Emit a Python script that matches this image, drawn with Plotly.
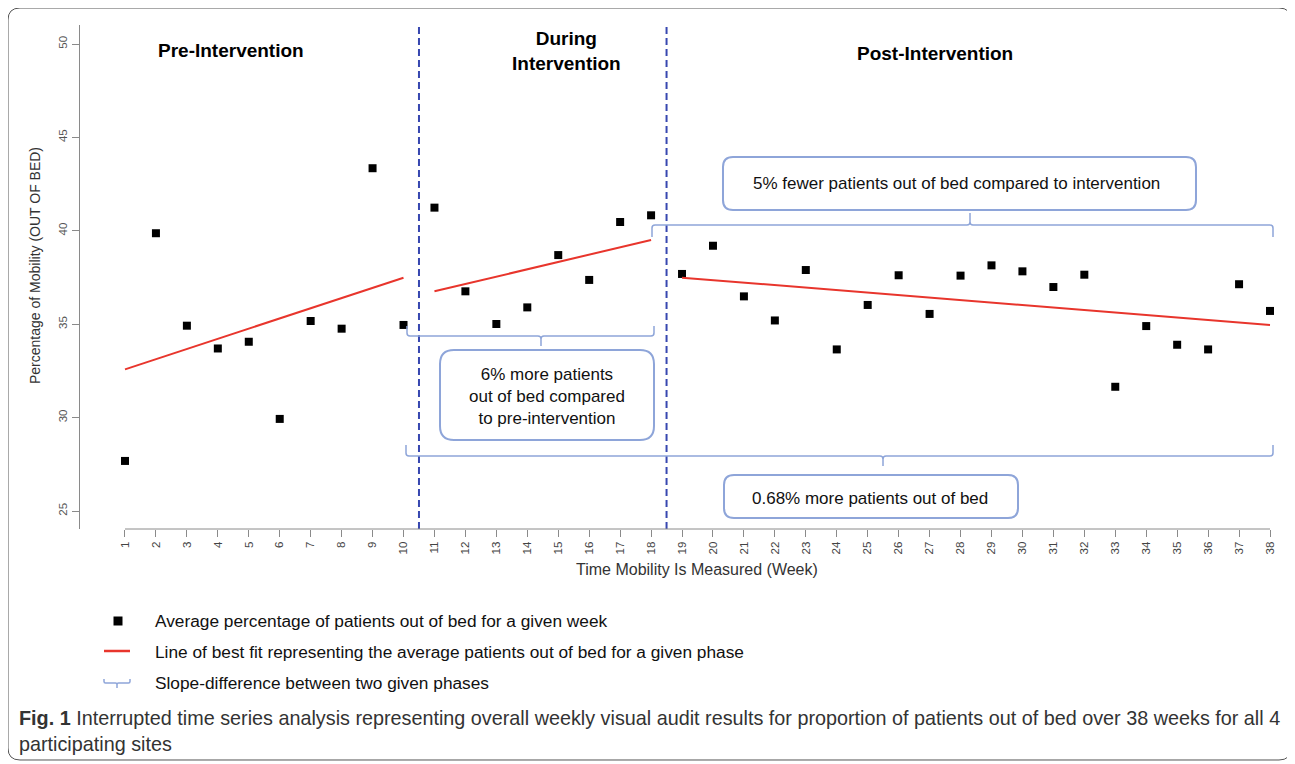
import plotly.graph_objects as go

# ---------------- data ----------------
weeks = list(range(1, 39))
pct_out_of_bed = [27.68, 39.87, 34.92, 33.70, 34.06, 29.93, 35.17, 34.76, 43.35, 34.96,
                  41.24, 36.76, 35.01, 35.90, 38.70, 37.37, 40.47, 40.83,
                  37.69, 39.20, 36.49, 35.20, 37.90, 33.65, 36.03, 37.62, 35.55, 37.60,
                  38.15, 37.83, 36.99, 37.65, 31.65, 34.90, 33.90, 33.65, 37.14, 35.71]

fit_weeks_pre = [1, 10]
fit_pre = [32.58, 37.49]
fit_weeks_during = [11, 18]
fit_during = [36.76, 39.51]
fit_weeks_post = [19, 38]
fit_post = [37.49, 34.96]

phase_boundaries = [10.5, 18.5]
y_ticks = [25, 30, 35, 40, 45, 50]

phase_titles = ["<b>Pre-Intervention</b>", "<b>During<br>Intervention</b>", "<b>Post-Intervention</b>"]
box_texts = ["5% fewer patients out of bed compared to intervention",
             "6% more patients<br>out of bed compared<br>to pre-intervention",
             "0.68% more patients out of bed"]
legend_texts = ["Average percentage of patients out of bed for a given week",
                "Line of best fit representing the average patients out of bed for a given phase",
                "Slope-difference between two given phases"]
caption = ("<b>Fig. 1</b> Interrupted time series analysis representing overall weekly visual audit "
           "results for proportion of patients out of bed over 38 weeks for all 4<br>participating sites")

# ---------------- geometry helpers (reference pixel -> paper) ----------------
OFF = 8  # page body margin offset
L, R, T, B = 80, 1290, 25, 529
W, H = R - L, B - T


def px(x):
    return (x - L) / W


def py(y):
    return (B - y) / H


def path_from(cmds):
    out = []
    for cmd, *pts in cmds:
        coords = [f"{px(pts[i]):.5f},{py(pts[i+1]):.5f}" for i in range(0, len(pts), 2)]
        out.append(cmd + " " + " ".join(coords))
    return " ".join(out)


def rrect(x0, y0, x1, y1, r):
    return path_from([
        ("M", x0 + r, y0), ("L", x1 - r, y0), ("Q", x1, y0, x1, y0 + r),
        ("L", x1, y1 - r), ("Q", x1, y1, x1 - r, y1), ("L", x0 + r, y1),
        ("Q", x0, y1, x0, y1 - r), ("L", x0, y0 + r), ("Q", x0, y0, x0 + r, y0), ("Z",)
    ])


def bracket(x0, x1, y, xc, end_dy, notch_dy, r=3):
    s = 1 if end_dy > 0 else -1
    n = 1 if notch_dy > 0 else -1
    return path_from([
        ("M", x0, y + end_dy), ("L", x0, y + s * r), ("Q", x0, y, x0 + r, y),
        ("L", xc - r, y), ("Q", xc, y, xc, y + n * r), ("L", xc, y + notch_dy),
        ("M", xc, y + n * r), ("Q", xc, y, xc + r, y),
        ("L", x1 - r, y), ("Q", x1, y, x1, y + s * r), ("L", x1, y + end_dy)
    ])


BR_COLOR = "#8ea5d9"
RED = "#e8352c"
DASH_BLUE = "#3747b0"
FONT = "Liberation Sans, Arial, sans-serif"

fig = go.Figure()

fig.add_trace(go.Scatter(x=weeks, y=pct_out_of_bed, mode="markers",
                         marker=dict(symbol="square", size=8, color="black"),
                         showlegend=False, hoverinfo="x+y"))
for fx, fy in [(fit_weeks_pre, fit_pre), (fit_weeks_during, fit_during), (fit_weeks_post, fit_post)]:
    fig.add_trace(go.Scatter(x=fx, y=fy, mode="lines", line=dict(color=RED, width=2),
                             showlegend=False, hoverinfo="skip"))

shapes = []
for b in phase_boundaries:
    shapes.append(dict(type="line", xref="x", yref="paper", x0=b, x1=b, y0=0, y1=1,
                       line=dict(color=DASH_BLUE, width=2, dash="7px,4px")))
shapes.append(dict(type="line", xref="x", yref="paper", x0=weeks[0], x1=weeks[-1], y0=0, y1=0,
                   line=dict(color="#8a8a8a", width=1)))
shapes.append(dict(type="path", xref="paper", yref="paper", path=rrect(8, 8, 1291, 760, 12),
                   line=dict(color="#555555", width=1)))
shapes.append(dict(type="path", xref="paper", yref="paper", path=rrect(723, 157, 1196, 210, 10),
                   line=dict(color=BR_COLOR, width=2)))
shapes.append(dict(type="path", xref="paper", yref="paper", path=rrect(440, 350, 654, 440, 14),
                   line=dict(color=BR_COLOR, width=2)))
shapes.append(dict(type="path", xref="paper", yref="paper", path=rrect(724, 475, 1018, 518, 10),
                   line=dict(color=BR_COLOR, width=2)))
shapes.append(dict(type="path", xref="paper", yref="paper",
                   path=bracket(652, 1273, 225, 970, 12, -12), line=dict(color=BR_COLOR, width=1.5)))
shapes.append(dict(type="path", xref="paper", yref="paper",
                   path=bracket(407, 654, 336, 541, -10, 10), line=dict(color=BR_COLOR, width=1.5)))
shapes.append(dict(type="path", xref="paper", yref="paper",
                   path=bracket(406, 1273, 456, 883, -11, 10), line=dict(color=BR_COLOR, width=1.5)))
shapes.append(dict(type="rect", xref="paper", yref="paper", x0=px(113.5), x1=px(122.5),
                   y0=py(625.5), y1=py(616.5), fillcolor="black", line=dict(width=0)))
shapes.append(dict(type="line", xref="paper", yref="paper", x0=px(104), x1=px(130),
                   y0=py(651), y1=py(651), line=dict(color=RED, width=2.5)))
shapes.append(dict(type="path", xref="paper", yref="paper",
                   path=bracket(104, 130, 683, 117, -4, 5, r=1.5), line=dict(color=BR_COLOR, width=1.5)))

annotations = []
for t, (x, y) in zip(phase_titles, [(231, 50), (566, 51), (935, 53)]):
    annotations.append(dict(text=t, x=px(x), y=py(y), xref="paper", yref="paper", showarrow=False,
                            xanchor="center", yanchor="middle",
                            font=dict(family=FONT, size=19, color="black")))
for t, (x, y) in zip(box_texts, [(956, 183), (547, 396), (870, 498)]):
    annotations.append(dict(text=t, x=px(x), y=py(y), xref="paper", yref="paper", showarrow=False,
                            xanchor="center", yanchor="middle", align="center",
                            font=dict(family=FONT, size=17, color="#111111")))
for t, y in zip(legend_texts, [621, 652, 683]):
    annotations.append(dict(text=t, x=px(153), y=py(y), xref="paper", yref="paper", showarrow=False,
                            xanchor="left", yanchor="middle",
                            font=dict(family=FONT, size=17.3, color="#111111")))
annotations.append(dict(text=caption, x=px(17), y=py(731), xref="paper", yref="paper", showarrow=False,
                        xanchor="left", yanchor="middle", align="left",
                        font=dict(family=FONT, size=19.8, color="#333333")))
annotations.append(dict(text="Time Mobility Is Measured (Week)", x=px(697), y=py(569), xref="paper",
                        yref="paper", showarrow=False, xanchor="center", yanchor="middle",
                        font=dict(family=FONT, size=16, color="#333333")))
annotations.append(dict(text="Percentage of Mobility (OUT OF BED)", x=px(35), y=py(266), xref="paper",
                        yref="paper", showarrow=False, xanchor="center", yanchor="middle", textangle=-90,
                        font=dict(family=FONT, size=14, color="#333333")))

fig.update_layout(
    width=1295 - OFF, height=764 - OFF,
    margin=dict(l=L - OFF, r=1295 - R, t=T - OFF, b=764 - B),
    paper_bgcolor="white", plot_bgcolor="white",
    shapes=shapes, annotations=annotations,
    xaxis=dict(range=[1 - 45 / 30.95, 38 + 20 / 30.95], tickmode="array", tickvals=weeks,
               ticktext=[str(w) for w in weeks], tickangle=-90, ticks="outside", ticklen=7,
               tickcolor="#8a8a8a", showgrid=False, zeroline=False, showline=False,
               tickfont=dict(family=FONT, size=11.5, color="#444444")),
    yaxis=dict(range=[25 - 18 / 18.68, 50 + 19 / 18.68], tickmode="array", tickvals=y_ticks,
               tickangle=-90, ticks="outside", ticklen=7, tickcolor="#8a8a8a", showgrid=False,
               zeroline=False, showline=True, linecolor="#8a8a8a", linewidth=1,
               tickfont=dict(family=FONT, size=11.5, color="#555555")),
)

fig.write_html("out.html")
